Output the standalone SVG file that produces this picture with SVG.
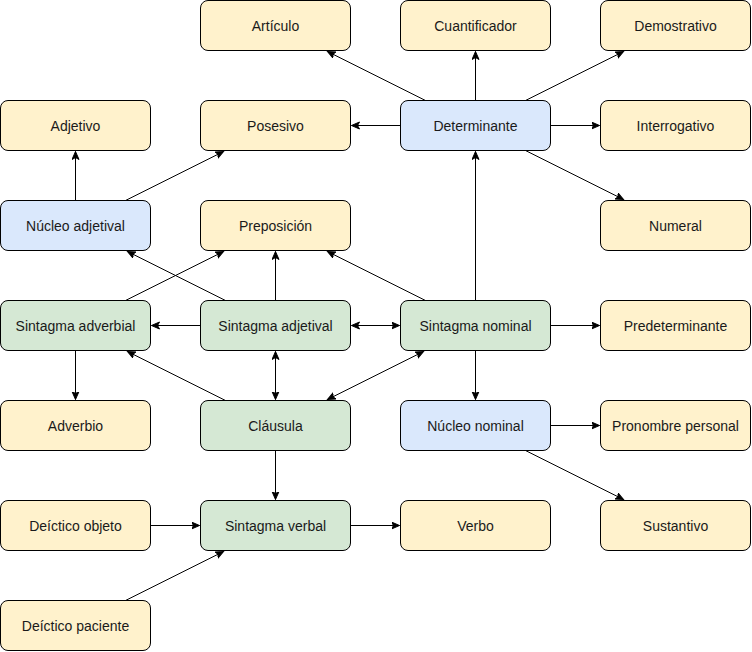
<svg xmlns="http://www.w3.org/2000/svg" width="752" height="652" viewBox="0 0 752 652">
<defs>
<style>
.n rect{stroke:#000;stroke-width:1}
.y rect{fill:#fff2cc}
.b rect{fill:#dae8fc}
.g rect{fill:#d5e8d4}
.n text{font-family:"Liberation Sans",Arial,sans-serif;font-size:14px;fill:#1a1a1a;text-anchor:middle}
#edges path{fill:none;stroke:#000;stroke-width:1;marker-end:url(#ar)}
#edges path.bi{marker-start:url(#ar)}
</style>
<marker id="ar" markerUnits="userSpaceOnUse" markerWidth="10" markerHeight="10" viewBox="0 0 10 10" refX="8" refY="4" orient="auto-start-reverse">
<path d="M0,0.5 L8,4 L0,7.5 L2,4 Z" fill="#000" stroke="#000" stroke-width="1"/>
</marker>
</defs>
<rect width="752" height="652" fill="#fff"/>
<g id="edges">
<path d="M425.5,100.5 L327.5,51.5"/>
<path d="M475.5,100.5 L475.5,51.5"/>
<path d="M525.5,100.5 L623.5,51.5"/>
<path d="M400.5,125.5 L351.5,125.5"/>
<path d="M550.5,125.5 L599.5,125.5"/>
<path d="M525.5,150.5 L623.5,199.5"/>
<path d="M75.5,200.5 L75.5,151.5"/>
<path d="M125.5,200.5 L223.5,151.5"/>
<path d="M225.5,300.5 L127.5,251.5"/>
<path d="M125.5,300.5 L223.5,251.5"/>
<path d="M275.5,300.5 L275.5,251.5"/>
<path d="M425.5,300.5 L327.5,251.5"/>
<path d="M475.5,300.5 L475.5,151.5"/>
<path d="M200.5,325.5 L151.5,325.5"/>
<path class="bi" d="M351.5,325.5 L399.5,325.5"/>
<path d="M550.5,325.5 L599.5,325.5"/>
<path d="M75.5,350.5 L75.5,399.5"/>
<path d="M225.5,400.5 L127.5,351.5"/>
<path class="bi" d="M275.5,351.5 L275.5,399.5"/>
<path class="bi" d="M327.5,399.5 L423.5,351.5"/>
<path d="M475.5,350.5 L475.5,399.5"/>
<path d="M550.5,425.5 L599.5,425.5"/>
<path d="M525.5,450.5 L623.5,499.5"/>
<path d="M275.5,450.5 L275.5,499.5"/>
<path d="M150.5,525.5 L199.5,525.5"/>
<path d="M350.5,525.5 L399.5,525.5"/>
<path d="M125.5,600.5 L223.5,551.5"/>
</g>
<g id="n-articulo" class="n y"><rect x="200.5" y="0.5" width="150" height="50" rx="7.5"/><text x="275.5" y="30.5">Artículo</text></g>
<g id="n-cuantificador" class="n y"><rect x="400.5" y="0.5" width="150" height="50" rx="7.5"/><text x="475.5" y="30.5">Cuantificador</text></g>
<g id="n-demostrativo" class="n y"><rect x="600.5" y="0.5" width="150" height="50" rx="7.5"/><text x="675.5" y="30.5">Demostrativo</text></g>
<g id="n-adjetivo" class="n y"><rect x="0.5" y="100.5" width="150" height="50" rx="7.5"/><text x="75.5" y="130.5">Adjetivo</text></g>
<g id="n-posesivo" class="n y"><rect x="200.5" y="100.5" width="150" height="50" rx="7.5"/><text x="275.5" y="130.5">Posesivo</text></g>
<g id="n-determinante" class="n b"><rect x="400.5" y="100.5" width="150" height="50" rx="7.5"/><text x="475.5" y="130.5">Determinante</text></g>
<g id="n-interrogativo" class="n y"><rect x="600.5" y="100.5" width="150" height="50" rx="7.5"/><text x="675.5" y="130.5">Interrogativo</text></g>
<g id="n-nucleo-adjetival" class="n b"><rect x="0.5" y="200.5" width="150" height="50" rx="7.5"/><text x="75.5" y="230.5">Núcleo adjetival</text></g>
<g id="n-preposicion" class="n y"><rect x="200.5" y="200.5" width="150" height="50" rx="7.5"/><text x="275.5" y="230.5">Preposición</text></g>
<g id="n-numeral" class="n y"><rect x="600.5" y="200.5" width="150" height="50" rx="7.5"/><text x="675.5" y="230.5">Numeral</text></g>
<g id="n-sintagma-adverbial" class="n g"><rect x="0.5" y="300.5" width="150" height="50" rx="7.5"/><text x="75.5" y="330.5">Sintagma adverbial</text></g>
<g id="n-sintagma-adjetival" class="n g"><rect x="200.5" y="300.5" width="150" height="50" rx="7.5"/><text x="275.5" y="330.5">Sintagma adjetival</text></g>
<g id="n-sintagma-nominal" class="n g"><rect x="400.5" y="300.5" width="150" height="50" rx="7.5"/><text x="475.5" y="330.5">Sintagma nominal</text></g>
<g id="n-predeterminante" class="n y"><rect x="600.5" y="300.5" width="150" height="50" rx="7.5"/><text x="675.5" y="330.5">Predeterminante</text></g>
<g id="n-adverbio" class="n y"><rect x="0.5" y="400.5" width="150" height="50" rx="7.5"/><text x="75.5" y="430.5">Adverbio</text></g>
<g id="n-clausula" class="n g"><rect x="200.5" y="400.5" width="150" height="50" rx="7.5"/><text x="275.5" y="430.5">Cláusula</text></g>
<g id="n-nucleo-nominal" class="n b"><rect x="400.5" y="400.5" width="150" height="50" rx="7.5"/><text x="475.5" y="430.5">Núcleo nominal</text></g>
<g id="n-pronombre-personal" class="n y"><rect x="600.5" y="400.5" width="150" height="50" rx="7.5"/><text x="675.5" y="430.5">Pronombre personal</text></g>
<g id="n-deictico-objeto" class="n y"><rect x="0.5" y="500.5" width="150" height="50" rx="7.5"/><text x="75.5" y="530.5">Deíctico objeto</text></g>
<g id="n-sintagma-verbal" class="n g"><rect x="200.5" y="500.5" width="150" height="50" rx="7.5"/><text x="275.5" y="530.5">Sintagma verbal</text></g>
<g id="n-verbo" class="n y"><rect x="400.5" y="500.5" width="150" height="50" rx="7.5"/><text x="475.5" y="530.5">Verbo</text></g>
<g id="n-sustantivo" class="n y"><rect x="600.5" y="500.5" width="150" height="50" rx="7.5"/><text x="675.5" y="530.5">Sustantivo</text></g>
<g id="n-deictico-paciente" class="n y"><rect x="0.5" y="600.5" width="150" height="50" rx="7.5"/><text x="75.5" y="630.5">Deíctico paciente</text></g>
</svg>
